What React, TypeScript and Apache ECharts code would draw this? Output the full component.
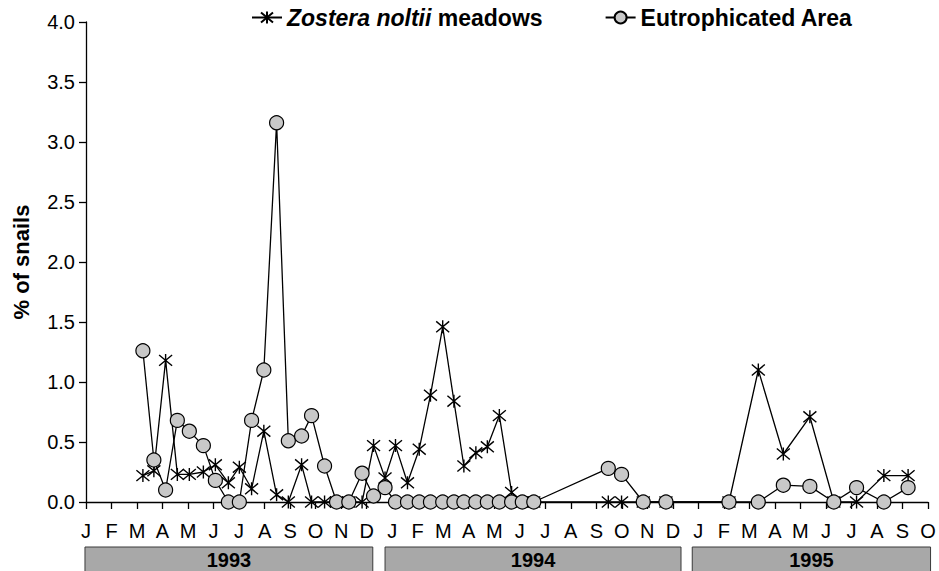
import React, { useEffect, useRef } from "react";
import * as echarts from "echarts";

const monthLetters = ["J", "F", "M", "A", "M", "J", "J", "A", "S", "O", "N", "D"];

// sampling dates, in months since January 1993
const sampleMonths = [
  2.23, 2.66, 3.12, 3.58, 4.05, 4.6, 5.07, 5.58, 6.01, 6.49, 6.97, 7.47, 7.93, 8.45, 8.84, 9.35,
  9.82, 10.3, 10.82, 11.27, 11.72, 12.13, 12.6, 13.06, 13.5, 13.98, 14.42, 14.81, 15.28, 15.73,
  16.2, 16.68, 17.1, 17.55, 20.47, 20.99, 21.84, 22.73, 25.2, 26.35, 27.33, 28.37, 29.31, 30.2,
  31.27, 32.22,
];

const zosteraValues = [
  0.22, 0.26, 1.18, 0.23, 0.23, 0.25, 0.31, 0.16, 0.29, 0.11, 0.59, 0.06, 0, 0.31, 0, 0,
  0, 0, 0, 0.47, 0.2, 0.47, 0.16, 0.44, 0.89, 1.46, 0.84, 0.3, 0.41, 0.46,
  0.72, 0.08, 0, 0, 0, 0, 0, 0, 0, 1.1, 0.4, 0.71, 0, 0,
  0.22, 0.22,
];

const eutroValues = [
  1.26, 0.35, 0.1, 0.68, 0.59, 0.47, 0.18, 0, 0, 0.68, 1.1, 3.16, 0.51, 0.55, 0.72, 0.3,
  0, 0, 0.24, 0.05, 0.12, 0, 0, 0, 0, 0, 0, 0, 0, 0,
  0, 0, 0, 0, 0.28, 0.23, 0, 0, 0, 0, 0.14, 0.13, 0, 0.12,
  0, 0.12,
];

const yearLabels = ["1993", "1994", "1995"];
const yearStart = [-0.04, 11.72, 23.76];
const yearEnd = [11.24, 23.32, 33.1];

const FONT = "'Liberation Sans', Arial, Helvetica, sans-serif";
const starPath = "path://M0,0L10,10M10,0L0,10M5,-1L5,11";

export default function App() {
  const ref = useRef<HTMLDivElement>(null);

  useEffect(() => {
    if (!ref.current) return;
    const chart = echarts.init(ref.current, null, { renderer: "svg" });
    const zData = sampleMonths.map((m, i) => [m, zosteraValues[i]]);
    const eData = sampleMonths.map((m, i) => [m, eutroValues[i]]);

    chart.setOption({
      animation: false,
      backgroundColor: "#ffffff",
      textStyle: { fontFamily: FONT },
      grid: { left: 86, right: 11, top: 22, bottom: 69, containLabel: false },
      legend: {
        top: 1,
        left: 246,
        itemGap: 62,
        itemWidth: 30,
        itemHeight: 15,
        selectedMode: false,
        data: ["Zostera noltii meadows", "Eutrophicated Area"],
        formatter: (n: string) =>
          n === "Zostera noltii meadows" ? "{i|Zostera noltii} meadows" : n,
        textStyle: {
          fontSize: 23,
          fontWeight: "bold",
          fontFamily: FONT,
          color: "#000",
          rich: {
            i: { fontSize: 23, fontWeight: "bold", fontStyle: "italic", fontFamily: FONT, color: "#000" },
          },
        },
      },
      xAxis: {
        type: "value",
        min: 0,
        max: 33,
        interval: 1,
        splitLine: { show: false },
        axisLine: { show: true, onZero: false, lineStyle: { color: "#000", width: 1.3 } },
        axisTick: { show: true, inside: false, length: 7, lineStyle: { color: "#000", width: 1.3 } },
        axisLabel: {
          margin: 19,
          fontSize: 20,
          fontFamily: FONT,
          color: "#000",
          formatter: (v: number) => monthLetters[Math.round(v) % 12],
        },
      },
      yAxis: {
        type: "value",
        min: 0,
        max: 4,
        interval: 0.5,
        name: "% of snails",
        nameLocation: "middle",
        nameGap: 54,
        nameTextStyle: { fontSize: 22, fontWeight: "bold", fontFamily: FONT, color: "#000" },
        splitLine: { show: false },
        axisLine: { show: true, lineStyle: { color: "#000", width: 1.3 } },
        axisTick: { show: true, inside: false, length: 7, lineStyle: { color: "#000", width: 1.3 } },
        axisLabel: {
          margin: 11,
          fontSize: 20,
          fontFamily: FONT,
          color: "#000",
          formatter: (v: number) => v.toFixed(1),
        },
      },
      series: [
        {
          name: "Zostera noltii meadows",
          type: "line",
          data: zData,
          symbol: starPath,
          symbolSize: 13,
          showAllSymbol: true,
          lineStyle: { color: "#000", width: 1.3 },
          itemStyle: { color: "rgba(0,0,0,0)", borderColor: "#000", borderWidth: 1.4 },
          emphasis: { disabled: true },
          z: 2,
        },
        {
          name: "Eutrophicated Area",
          type: "line",
          data: eData,
          symbol: "circle",
          symbolSize: 14,
          showAllSymbol: true,
          lineStyle: { color: "#000", width: 1.3 },
          itemStyle: { color: "#c8c8c8", borderColor: "#000", borderWidth: 1.2 },
          emphasis: { disabled: true },
          z: 3,
        },
      ],
    });

    const top = 547;
    const graphics = yearLabels.map((label, i) => {
      const x0 = chart.convertToPixel({ xAxisIndex: 0 }, yearStart[i]) as number;
      const x1 = chart.convertToPixel({ xAxisIndex: 0 }, yearEnd[i]) as number;
      return {
        type: "group",
        children: [
          {
            type: "rect",
            shape: { x: x0, y: top, width: x1 - x0, height: 30 },
            style: { fill: "#a8a8a8", stroke: "#3a3a3a", lineWidth: 1 },
          },
          {
            type: "text",
            x: (x0 + x1) / 2,
            y: top + 13,
            style: {
              text: label,
              fill: "#000",
              font: `bold 20px ${FONT}`,
              textAlign: "center",
              textVerticalAlign: "middle",
            },
          },
        ],
      };
    });
    chart.setOption({ graphic: graphics });

    return () => chart.dispose();
  }, []);

  return (
    <div
      ref={ref}
      style={{ position: "absolute", left: 0, top: 0, width: 939, height: 571, background: "#fff" }}
    />
  );
}
